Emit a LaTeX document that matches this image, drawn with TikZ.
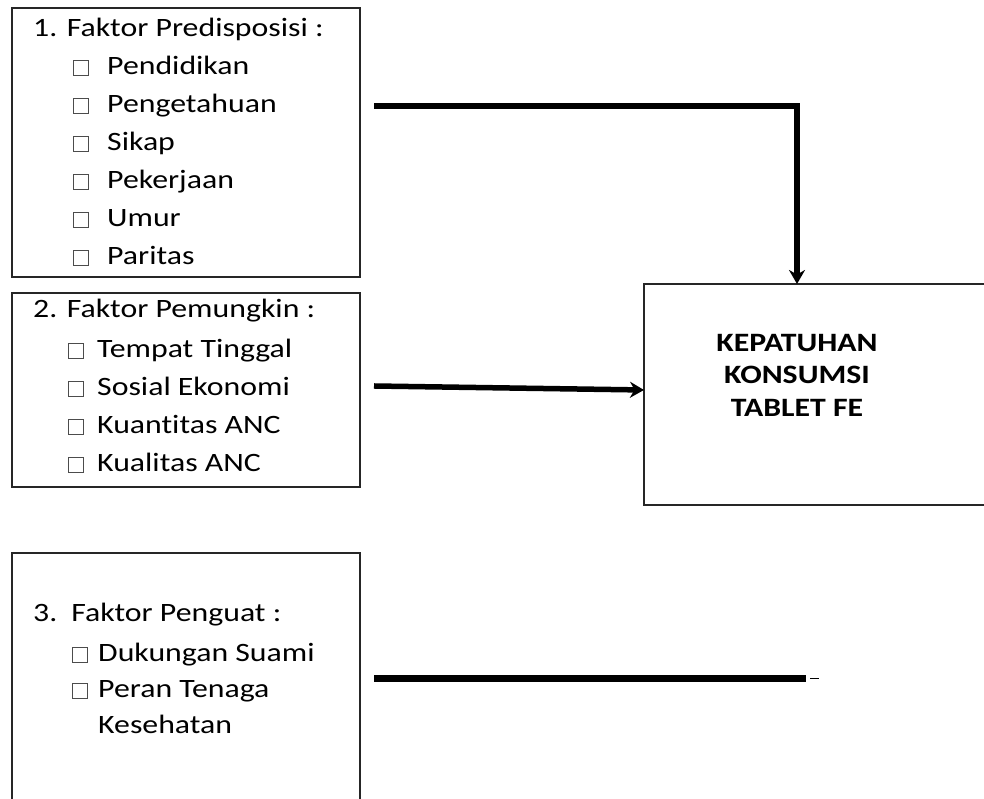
\documentclass[tikz,border=0pt]{standalone}
\usepackage{fontspec}
\setmainfont{Carlito}[FakeStretch=1.2, Ligatures=NoCommon, RawFeature={-clig;-calt}]
\usetikzlibrary{arrows.meta,positioning}

\newcommand{\chk}{{\setlength{\fboxsep}{0pt}\setlength{\fboxrule}{0.8pt}\color{black!70}\fbox{\rule{0pt}{14.4pt}\hspace{14.4pt}}}}

\begin{document}
\begin{tikzpicture}[
    x=1pt, y=1pt,
    font=\fontsize{26.5}{38}\selectfont,
    node distance=16pt,
    box/.style={rectangle, draw=black!85, line width=1.6pt, outer sep=0pt,
      minimum width=348pt, anchor=north west, inner sep=0pt},
    outbox/.style={rectangle, draw=black!85, line width=1.6pt, outer sep=0pt,
      minimum width=360pt, minimum height=221pt, inner sep=0pt},
    txt/.style={anchor=base west, inner sep=0pt},
    ttl/.style={anchor=base, inner sep=0pt, font=\fontsize{26.5}{32}\selectfont\bfseries},
    arr/.style={-{Stealth[length=14pt, width=16pt]}, line width=5.5pt},
    bar/.style={line width=7pt}
  ]
    \clip (0,0) rectangle (984,799);

    \node[box, minimum height=269pt] (b1) at (12,791) {};
    \node[box, minimum height=194pt, below=16pt of b1] (b2) {};
    \node[box, minimum height=270pt, below=66pt of b2] (b3) {};
    \node[outbox, right=284pt of b2, yshift=-4.5pt] (out) {};

    \node[txt] (h1) at ([xshift=21pt, yshift=-29pt]b1.north west) {1. Faktor Predisposisi :};
    \foreach \t [count=\i] in {Pendidikan, Pengetahuan, Sikap, Pekerjaan, Umur, Paritas}
      \node[txt] (p\i) at ([xshift=61pt, yshift=-29pt-38pt*\i]b1.north west) {\chk\hspace{18pt}\t};

    \node[txt] (h2) at ([xshift=21pt, yshift=-25pt]b2.north west) {2. Faktor Pemungkin :};
    \foreach \t [count=\i] in {Tempat Tinggal, Sosial Ekonomi, Kuantitas ANC, Kualitas ANC}
      \node[txt] (m\i) at ([xshift=56pt, yshift=-27pt-38pt*\i]b2.north west) {\chk\hspace{13pt}\t};

    \node[txt] (h3) at ([xshift=21pt, yshift=-69pt]b3.north west) {3.\hspace{14pt}Faktor Penguat :};
    \node[txt] (r1) at ([xshift=60pt, yshift=-109pt]b3.north west) {\chk\hspace{10pt}Dukungan Suami};
    \node[txt] (r2) at ([xshift=60pt, yshift=-145pt]b3.north west) {\chk\hspace{10pt}Peran Tenaga};
    \node[txt] (r3) at ([xshift=86pt, yshift=-181pt]b3.north west) {Kesehatan};

    \foreach \t [count=\i] in {KEPATUHAN, KONSUMSI, TABLET FE}
      \node[ttl] (t\i) at ([xshift=153pt, yshift=-35pt-32.5pt*\i]out.north west) {\t};

    \coordinate (s1) at ([xshift=14pt, yshift=36.5pt]b1.east);
    \coordinate (s2) at ([xshift=14pt, yshift=4pt]b2.east);
    \coordinate (s3) at ([xshift=14pt, yshift=9.5pt]b3.east);
    \coordinate (e3) at ([xshift=446pt, yshift=9.5pt]b3.east);

    \draw[arr] (s1) -| ([xshift=153pt]out.north west);
    \draw[arr] (s2) -- ([yshift=4.5pt]out.west);
    \draw[bar] (s3) -- (e3);
    \draw[line width=1.2pt] ([xshift=4pt]e3) -- ([xshift=13pt]e3);
  \end{tikzpicture}
\end{document}
